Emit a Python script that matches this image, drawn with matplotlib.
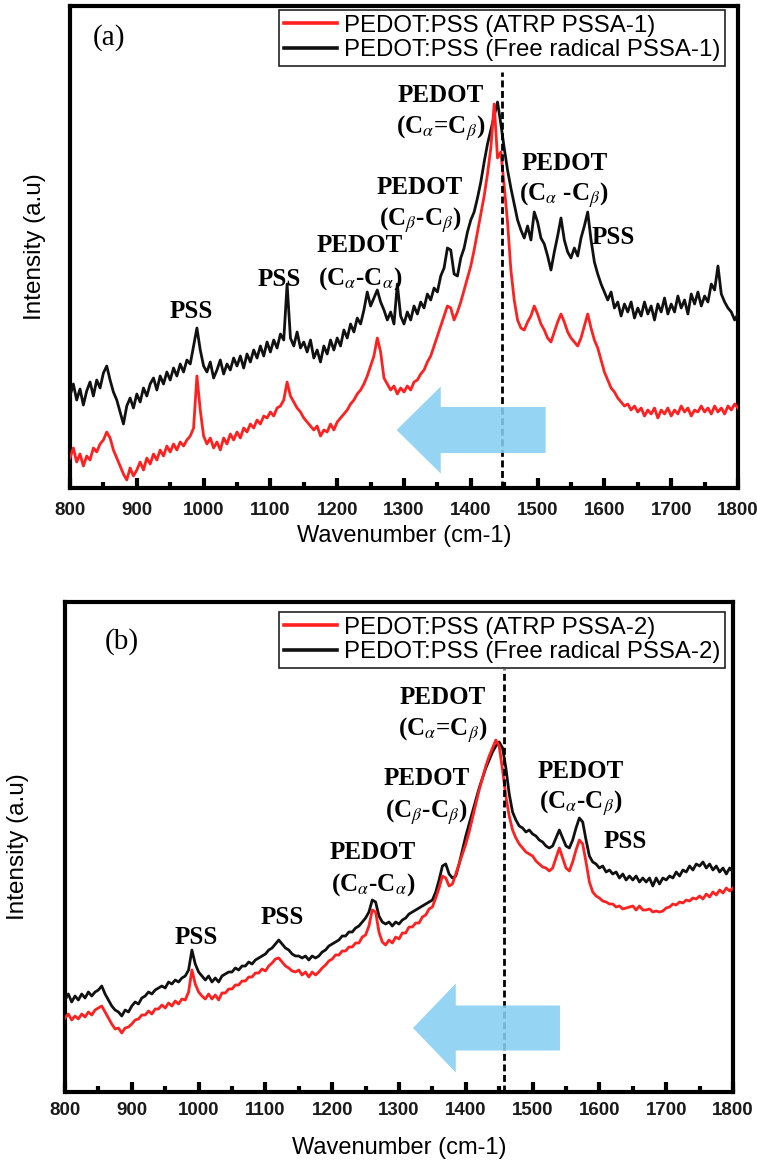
import numpy as np
import matplotlib
matplotlib.use('Agg')
import matplotlib.pyplot as plt
from matplotlib.ticker import MultipleLocator

plt.rcParams['mathtext.fontset'] = 'stix'

# ---------------- data (intensity in arbitrary units) ----------------
wavenumber = np.arange(800, 1805, 5)

red_a = [30, 40, 26, 34, 22, 32, 28, 40, 36, 44,
         48, 56, 50, 38, 30, 22, 14, 8, 20, 12,
         18, 26, 18, 30, 24, 34, 28, 38, 32, 42,
         36, 44, 38, 46, 42, 48, 52, 60, 112, 78,
         52, 44, 50, 40, 46, 38, 50, 44, 54, 48,
         56, 50, 60, 56, 64, 60, 68, 64, 72, 70,
         76, 72, 80, 82, 88, 106, 92, 86, 80, 76,
         70, 66, 62, 58, 62, 52, 58, 56, 64, 58,
         66, 70, 74, 78, 84, 88, 94, 98, 104, 112,
         122, 132, 150, 136, 110, 104, 98, 102, 94, 100,
         96, 102, 98, 106, 108, 114, 118, 126, 132, 142,
         152, 162, 172, 182, 180, 168, 176, 186, 198, 210,
         222, 238, 256, 274, 292, 314, 340, 384, 330, 336,
         302, 266, 218, 188, 168, 160, 158, 166, 172, 182,
         174, 164, 158, 150, 146, 156, 166, 174, 166, 156,
         150, 146, 142, 150, 162, 174, 160, 148, 140, 128,
         116, 108, 100, 96, 90, 86, 82, 84, 78, 82,
         76, 80, 72, 78, 74, 80, 70, 78, 74, 80,
         72, 78, 74, 82, 76, 80, 72, 78, 76, 82,
         76, 80, 74, 82, 76, 80, 74, 82, 78, 84,
         80]

black_a = [92, 104, 88, 99, 83, 97, 106, 92, 108, 100,
           115, 122, 108, 96, 88, 76, 64, 82, 90, 80,
           94, 86, 100, 92, 104, 110, 98, 112, 104, 116,
           108, 120, 112, 124, 116, 128, 124, 142, 160, 138,
           122, 116, 126, 110, 118, 128, 114, 124, 118, 130,
           122, 132, 120, 134, 126, 138, 130, 142, 132, 146,
           136, 148, 140, 154, 148, 204, 150, 142, 156, 140,
           146, 136, 148, 130, 138, 126, 142, 134, 148, 138,
           150, 142, 158, 150, 164, 156, 170, 164, 178, 196,
           182, 190, 198, 186, 178, 168, 176, 164, 204, 172,
           164, 176, 168, 182, 174, 186, 180, 194, 188, 200,
           196, 212, 220, 240, 238, 214, 212, 230, 240, 256,
           268, 276, 290, 306, 326, 344, 358, 372, 386, 364,
           340, 318, 300, 284, 268, 258, 250, 262, 248, 276,
           266, 250, 244, 232, 218, 236, 252, 270, 248, 236,
           230, 240, 232, 250, 262, 276, 248, 226, 214, 204,
           196, 188, 196, 180, 186, 172, 184, 176, 186, 170,
           180, 172, 186, 174, 182, 168, 184, 176, 190, 174,
           184, 176, 192, 180, 188, 174, 194, 184, 196, 182,
           192, 186, 204, 198, 222, 194, 186, 180, 176, 168,
           174]

red_b = [74, 78, 72, 76, 73, 78, 75, 80, 77, 82,
         84, 86, 80, 74, 68, 63, 64, 59, 64, 65,
         68, 72, 73, 77, 77, 81, 78, 83, 83, 87,
         84, 89, 86, 91, 88, 93, 92, 100, 122, 108,
         100, 96, 93, 98, 93, 97, 92, 99, 99, 103,
         103, 107, 107, 111, 111, 115, 115, 119, 119, 123,
         121, 126, 129, 133, 134, 130, 126, 124, 121, 120,
         122, 117, 120, 115, 120, 117, 120, 124, 127, 131,
         133, 137, 137, 141, 141, 145, 145, 149, 149, 155,
         157, 166, 182, 180, 160, 150, 147, 152, 149, 155,
         153, 159, 159, 165, 165, 169, 169, 175, 177, 183,
         185, 194, 204, 216, 214, 206, 208, 218, 228, 238,
         248, 260, 274, 288, 302, 314, 326, 336, 344, 352,
         346, 322, 296, 276, 262, 254, 248, 244, 240, 238,
         236, 231, 228, 225, 224, 221, 224, 234, 244, 234,
         224, 221, 230, 242, 252, 248, 230, 210, 200, 196,
         194, 191, 190, 188, 188, 185, 186, 183, 184, 185,
         186, 182, 186, 182, 182, 183, 180, 181, 180, 181,
         184, 185, 188, 187, 190, 189, 192, 191, 194, 193,
         196, 193, 198, 195, 200, 197, 202, 199, 204, 201,
         204]

black_b = [92, 98, 90, 96, 92, 98, 94, 100, 96, 100,
           102, 106, 98, 92, 86, 82, 80, 76, 82, 80,
           86, 90, 88, 94, 96, 100, 98, 102, 104, 106,
           104, 110, 108, 112, 110, 114, 116, 122, 142, 128,
           120, 116, 112, 116, 110, 114, 110, 116, 118, 120,
           120, 124, 122, 126, 126, 130, 128, 132, 134, 136,
           138, 142, 144, 148, 152, 148, 144, 142, 138, 136,
           136, 134, 136, 132, 136, 134, 136, 140, 142, 146,
           148, 150, 152, 156, 156, 160, 160, 164, 166, 170,
           174, 180, 192, 190, 176, 170, 168, 170, 166, 170,
           168, 172, 174, 178, 180, 182, 184, 186, 188, 190,
           192, 200, 212, 226, 228, 218, 214, 216, 228, 242,
           256, 268, 280, 292, 304, 314, 324, 332, 340, 346,
           350, 344, 324, 298, 280, 272, 266, 264, 260, 262,
           258, 256, 252, 250, 246, 244, 246, 254, 262, 254,
           246, 244, 252, 264, 274, 270, 252, 236, 230, 228,
           224, 226, 220, 222, 218, 220, 214, 218, 212, 216,
           212, 216, 210, 214, 210, 214, 206, 214, 208, 214,
           212, 216, 214, 220, 216, 222, 220, 226, 222, 228,
           226, 230, 224, 228, 222, 226, 220, 224, 218, 224,
           220]

legend_a = ['PEDOT:PSS (ATRP PSSA-1)', 'PEDOT:PSS (Free radical PSSA-1)']
legend_b = ['PEDOT:PSS (ATRP PSSA-2)', 'PEDOT:PSS (Free radical PSSA-2)']
tick_values = [800, 900, 1000, 1100, 1200, 1300, 1400, 1500, 1600, 1700, 1800]
tick_labels = ['800', '900', '1000', '1100', '1200', '1300', '1400',
               '1500', '1600', '1700', '1800']

# peak annotations: (text, wavenumber, intensity)
annot_a = [('PSS', 981, 177), ('PSS', 1113, 209),
           ('PEDOT', 1234, 242), (r'(C$_{\alpha}$-C$_{\alpha}$)', 1234, 209),
           ('PEDOT', 1324, 300), (r'(C$_{\beta}$-C$_{\beta}$)', 1324, 268),
           ('PEDOT', 1355, 392), (r'(C$_{\alpha}$=C$_{\beta}$)', 1355, 360),
           ('PEDOT', 1540, 324), (r'(C$_{\alpha}$ -C$_{\beta}$)', 1540, 293),
           ('PSS', 1613, 250)]
annot_b = [('PSS', 996, 155), ('PSS', 1125, 174),
           ('PEDOT', 1261, 239), (r'(C$_{\alpha}$-C$_{\alpha}$)', 1261, 207),
           ('PEDOT', 1341, 313), (r'(C$_{\beta}$-C$_{\beta}$)', 1341, 280),
           ('PEDOT', 1366, 394), (r'(C$_{\alpha}$=C$_{\beta}$)', 1366, 362),
           ('PEDOT', 1572, 320), (r'(C$_{\alpha}$-C$_{\beta}$)', 1572, 289),
           ('PSS', 1639, 250)]

# ---------------- figure ----------------
W, H = 757, 1163
fig = plt.figure(figsize=(W / 100, H / 100), dpi=100)

panels = [
    dict(rect=[70 / W, 1 - 488 / H, 668 / W, 482 / H], ymax=482, red=red_a, black=black_a,
         legend=legend_a, annot=annot_a, tag='(a)', tag_pos=(858, 450),
         vline=(1447, 416), arrow=(1512, 58, -223, 46, 87, 66),
         leg_anchor=(0.9805, 0.9917), pad=10, ylab_x=-0.0524, xlab_y=(488 - 536) / 482),
    dict(rect=[65 / W, 1 - 1092 / H, 668 / W, 490 / H], ymax=490, red=red_b, black=black_b,
         legend=legend_b, annot=annot_b, tag='(b)', tag_pos=(885, 450),
         vline=(1457, 423), arrow=(1541, 64, -220, 45, 89, 64),
         leg_anchor=(0.988, 0.9796), pad=7, ylab_x=-0.0704, xlab_y=(1092 - 1148) / 490),
]

for p in panels:
    ax = fig.add_axes(p['rect'])
    lb, = ax.plot(wavenumber, p['black'], color='#111111', lw=2.0, zorder=3,
                  label=p['legend'][1])
    lr, = ax.plot(wavenumber, p['red'], color='#ff2020', lw=2.0, zorder=3.5,
                  label=p['legend'][0])
    ax.set_xlim(800, 1800)
    ax.set_ylim(0, p['ymax'])
    ax.set_yticks([])
    ax.set_xticks(tick_values, tick_labels, fontweight='bold', fontsize=13.5,
                  family='Liberation Sans', color='#1a1a1a')
    ax.xaxis.set_minor_locator(MultipleLocator(50))
    ax.tick_params(axis='x', which='major', direction='in', length=7, width=3,
                   pad=p['pad'], top=False)
    ax.tick_params(axis='x', which='minor', direction='in', length=4, width=3, top=False)
    for s in ax.spines.values():
        s.set_linewidth(3)
        s.set_color('black')

    ax.set_xlabel('Wavenumber (cm-1)', family='Liberation Sans', fontsize=17)
    ax.xaxis.set_label_coords(0.5, p['xlab_y'])
    ax.xaxis.label.set_verticalalignment('center')
    ax.set_ylabel('Intensity (a.u)', family='Liberation Sans', fontsize=17.5)
    ax.yaxis.set_label_coords(p['ylab_x'], 0.5)
    ax.yaxis.label.set_verticalalignment('center')

    vx, vtop = p['vline']
    ax.vlines(vx, 0, vtop, colors='black', linestyles=(0, (2.5, 1.3)), lw=2.0, zorder=4)

    x0, y0, dx, w, hw, hl = p['arrow']
    ax.arrow(x0, y0, dx, 0, width=w, head_width=hw, head_length=hl,
             length_includes_head=True, fc='#86cff2', ec='none', alpha=0.88, zorder=5)

    for txt, x, y in p['annot']:
        ax.text(x, y, txt, ha='center', va='center', family='Liberation Serif',
                fontweight='bold', fontsize=18, zorder=6)
    ax.text(p['tag_pos'][0], p['tag_pos'][1], p['tag'], ha='center', va='center',
            family='Liberation Serif', fontsize=21, zorder=6)

    leg = ax.legend(handles=[lr, lb], loc='upper right', bbox_to_anchor=p['leg_anchor'],
                    borderaxespad=0, fancybox=False, framealpha=1, edgecolor='#222222',
                    prop=dict(family='Liberation Sans', size=17.3), handlelength=2.2,
                    handletextpad=0.3, borderpad=0.2, labelspacing=0.1)
    leg.get_frame().set_linewidth(1.2)
    for ln in leg.get_lines():
        ln.set_linewidth(2.6)

fig.savefig('out.png', dpi=100)
